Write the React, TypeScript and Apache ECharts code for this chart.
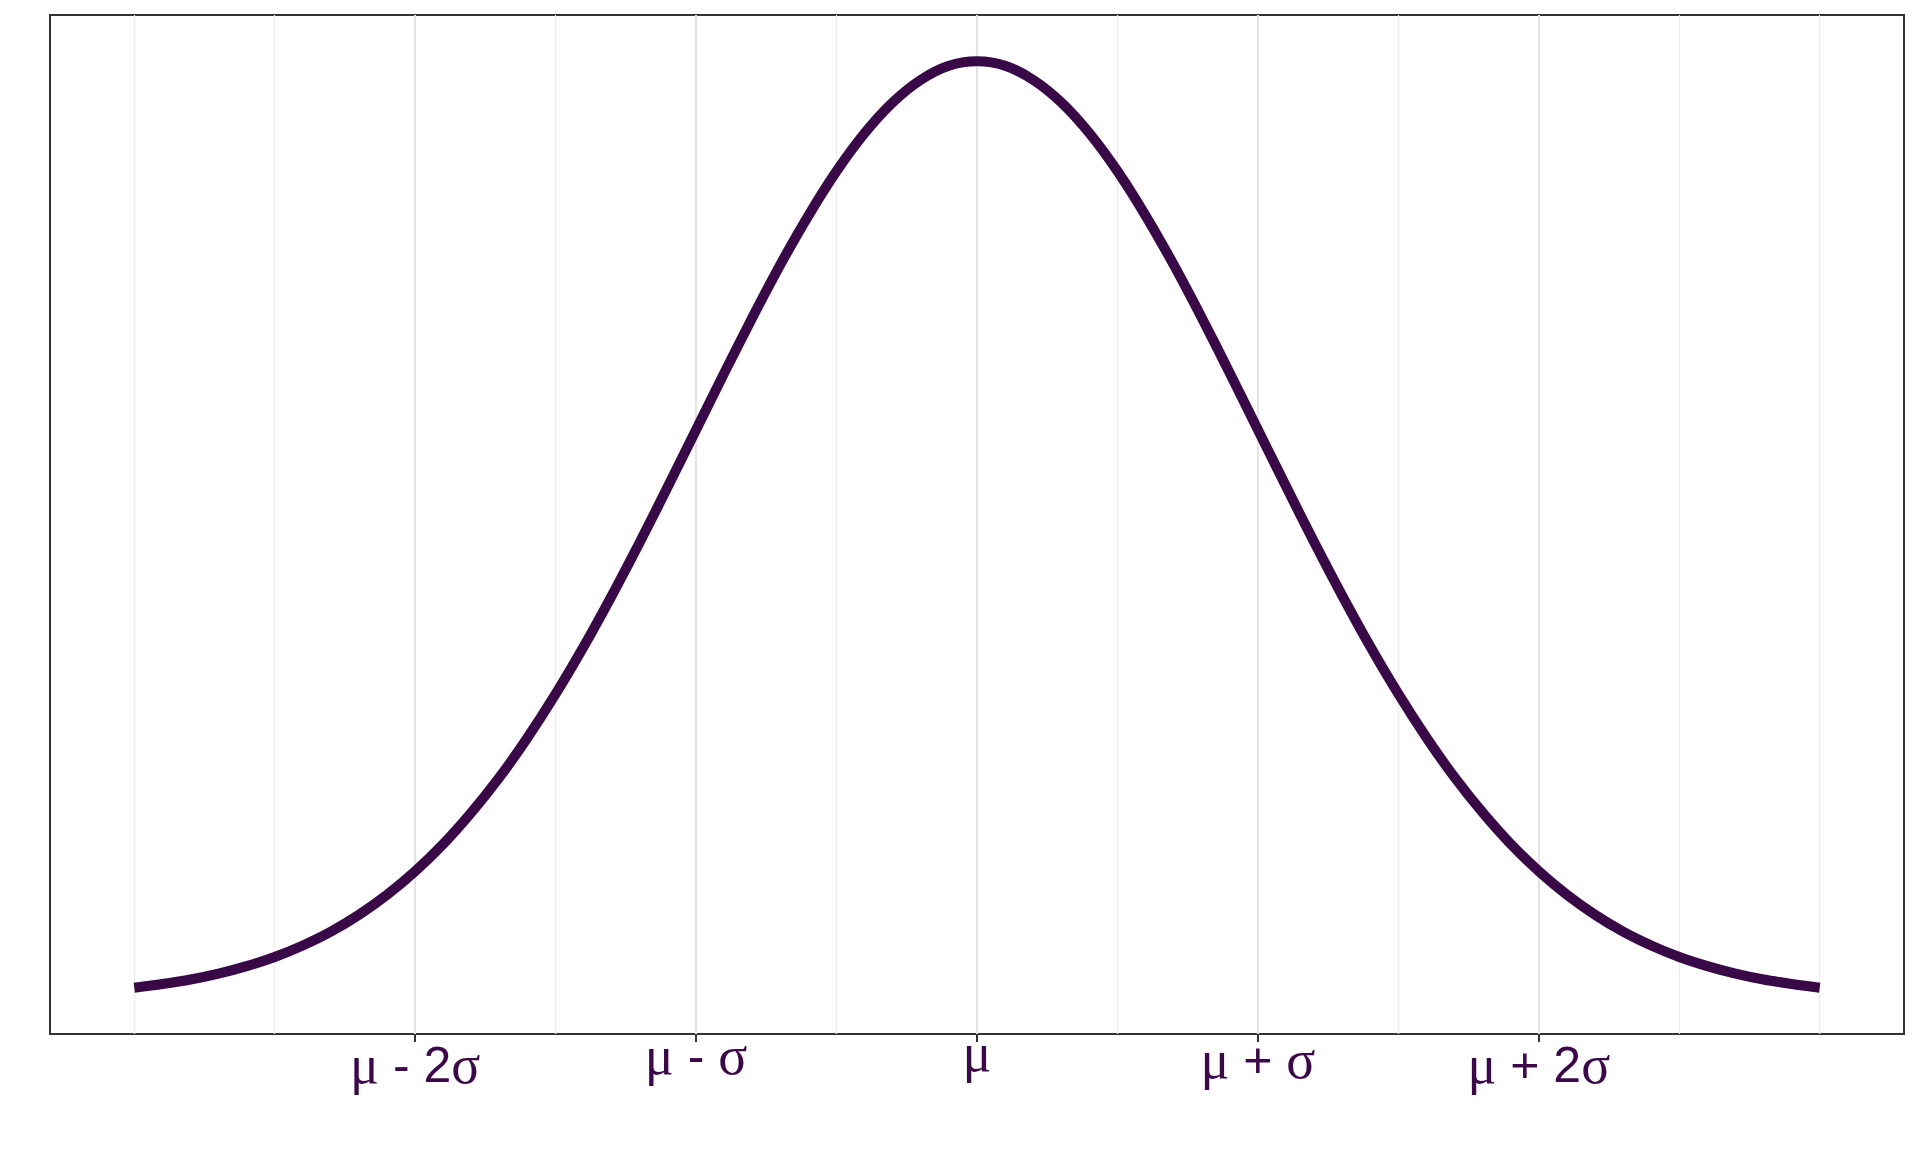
import React, { useEffect, useRef } from "react";
import * as echarts from "echarts";

// x positions in units of sigma from the mean
const xValues = [
  -3.0, -2.9, -2.8, -2.7, -2.6, -2.5, -2.4, -2.3, -2.2, -2.1,
  -2.0, -1.9, -1.8, -1.7, -1.6, -1.5, -1.4, -1.3, -1.2, -1.1,
  -1.0, -0.9, -0.8, -0.7, -0.6, -0.5, -0.4, -0.3, -0.2, -0.1,
  0.0,
  0.1, 0.2, 0.3, 0.4, 0.5, 0.6, 0.7, 0.8, 0.9, 1.0,
  1.1, 1.2, 1.3, 1.4, 1.5, 1.6, 1.7, 1.8, 1.9, 2.0,
  2.1, 2.2, 2.3, 2.4, 2.5, 2.6, 2.7, 2.8, 2.9, 3.0,
];
// density values
const densityValues = [
  0.0044, 0.006, 0.0079, 0.0104, 0.0136, 0.0175, 0.0224, 0.0283, 0.0355, 0.044,
  0.054, 0.0656, 0.079, 0.094, 0.1109, 0.1295, 0.1497, 0.1714, 0.1942, 0.2179,
  0.242, 0.2661, 0.2897, 0.3123, 0.3332, 0.3521, 0.3683, 0.3814, 0.391, 0.397,
  0.3989,
  0.397, 0.391, 0.3814, 0.3683, 0.3521, 0.3332, 0.3123, 0.2897, 0.2661, 0.242,
  0.2179, 0.1942, 0.1714, 0.1497, 0.1295, 0.1109, 0.094, 0.079, 0.0656, 0.054,
  0.044, 0.0355, 0.0283, 0.0224, 0.0175, 0.0136, 0.0104, 0.0079, 0.006, 0.0044,
];
const tickValues = [-2, -1, 0, 1, 2];
const tickLabels = ["μ - 2σ", "μ - σ", "μ", "μ + σ", "μ + 2σ"];
const majorGrid = [-2, -1, 0, 1, 2];
const minorGrid = [-3, -2.5, -1.5, -0.5, 0.5, 1.5, 2.5, 3];

const LINE_COLOR = "#380946";
const TEXT_COLOR = "#3c0948";

function richFor(label: string): string {
  let out = "";
  for (const ch of label) {
    if (ch === "μ" || ch === "σ") out += `{g|${ch}}`;
    else if (ch === " ") out += `{s| }`;
    else out += `{o|${ch}}`;
  }
  return out;
}

const richStyles = {
  g: {
    fontFamily: "Liberation Serif",
    fontSize: 54,
    lineHeight: 54,
    color: TEXT_COLOR,
  },
  o: {
    fontFamily: "Liberation Sans",
    fontSize: 50,
    fontWeight: 500,
    lineHeight: 54,
    color: TEXT_COLOR,
  },
  s: {
    fontFamily: "Liberation Sans",
    fontSize: 50,
    lineHeight: 54,
    color: TEXT_COLOR,
  },
};

// per-label vertical offsets (label index -> margin)
const labelMargins = [4, -5, -8, -1, 4];

export default function App() {
  const ref = useRef<HTMLDivElement>(null);
  useEffect(() => {
    if (!ref.current) return;
    const chart = echarts.init(ref.current, undefined, { renderer: "svg" });
    const data = xValues.map((x, i) => [x, densityValues[i]]);

    const labelAxes = tickValues.map((v, i) => ({
      type: "value",
      gridIndex: 0,
      position: "bottom",
      min: -3.3,
      max: 3.3,
      axisLine: { show: false, onZero: false },
      axisTick: { show: false },
      splitLine: { show: false },
      axisLabel: {
        show: true,
        customValues: [v],
        margin: labelMargins[i],
        formatter: () => richFor(tickLabels[i]),
        rich: richStyles,
        verticalAlign: "top",
      },
    }));

    const gridLines = [
      ...minorGrid.map((v) => ({
        xAxis: v,
        lineStyle: { color: "#ebebeb", width: 1.2, type: "solid" },
      })),
      ...majorGrid.map((v) => ({
        xAxis: v,
        lineStyle: { color: "#e4e4e4", width: 2.2, type: "solid" },
      })),
    ];

    chart.setOption({
      animation: false,
      backgroundColor: "#ffffff",
      grid: {
        left: 50,
        right: 16,
        top: 15,
        bottom: 118,
        show: true,
        borderColor: "#333333",
        borderWidth: 2,
        backgroundColor: "#ffffff",
      },
      xAxis: [
        {
          type: "value",
          min: -3.3,
          max: 3.3,
          position: "bottom",
          axisLine: { show: true, onZero: false, lineStyle: { color: "#333333", width: 2 } },
          axisTick: {
            show: true,
            customValues: tickValues,
            length: 8,
            inside: false,
            lineStyle: { color: "#333333", width: 2 },
          },
          axisLabel: { show: false },
          splitLine: { show: false },
        },
        ...labelAxes,
      ],
      yAxis: {
        type: "value",
        min: -0.0153,
        max: 0.4186,
        show: false,
        splitLine: { show: false },
      },
      series: [
        {
          type: "line",
          data: [],
          z: 1,
          silent: true,
          markLine: {
            silent: true,
            symbol: ["none", "none"],
            label: { show: false },
            data: gridLines,
          },
        },
        {
          type: "line",
          data,
          z: 5,
          showSymbol: false,
          smooth: 0.3,
          lineStyle: { color: LINE_COLOR, width: 10, cap: "butt", join: "round" },
        },
      ],
    });
    return () => chart.dispose();
  }, []);

  return (
    <div
      ref={ref}
      style={{ position: "fixed", left: 0, top: 0, width: 1920, height: 1152 }}
    />
  );
}
